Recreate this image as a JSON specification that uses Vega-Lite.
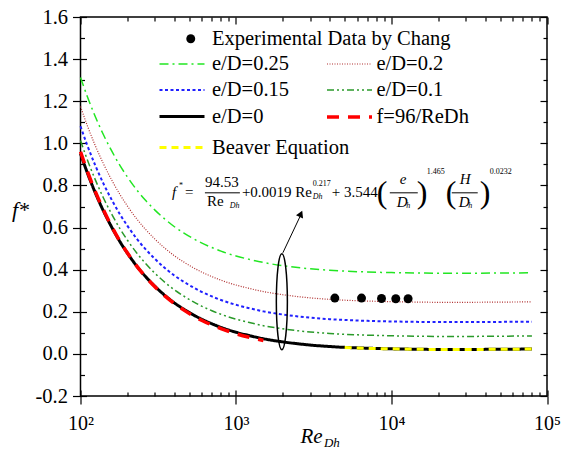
{
  "$schema": "https://vega.github.io/schema/vega-lite/v6.json",
  "width": 466.5,
  "height": 379,
  "autosize": {"type": "none"},
  "padding": {"left": 80.5, "top": 17, "right": 24, "bottom": 53},
  "background": "white",
  "datasets": {
    "curves": [
      {"Re": 100, "d0": 0.951, "d010": 1.013, "d015": 1.081, "d020": 1.175, "d025": 1.313, "f96": 0.960, "bv": null},
      {"Re": 110, "d0": 0.865, "d010": 0.927, "d015": 0.995, "d020": 1.089, "d025": 1.227, "f96": 0.873, "bv": null},
      {"Re": 125, "d0": 0.762, "d010": 0.824, "d015": 0.892, "d020": 0.986, "d025": 1.124, "f96": 0.768, "bv": null},
      {"Re": 140, "d0": 0.681, "d010": 0.743, "d015": 0.811, "d020": 0.905, "d025": 1.043, "f96": 0.686, "bv": null},
      {"Re": 160, "d0": 0.597, "d010": 0.659, "d015": 0.727, "d020": 0.821, "d025": 0.959, "f96": 0.600, "bv": null},
      {"Re": 180, "d0": 0.531, "d010": 0.593, "d015": 0.661, "d020": 0.755, "d025": 0.893, "f96": 0.533, "bv": null},
      {"Re": 200, "d0": 0.479, "d010": 0.541, "d015": 0.609, "d020": 0.703, "d025": 0.841, "f96": 0.480, "bv": null},
      {"Re": 230, "d0": 0.417, "d010": 0.479, "d015": 0.547, "d020": 0.641, "d025": 0.779, "f96": 0.417, "bv": null},
      {"Re": 260, "d0": 0.370, "d010": 0.432, "d015": 0.500, "d020": 0.594, "d025": 0.732, "f96": 0.369, "bv": null},
      {"Re": 300, "d0": 0.322, "d010": 0.384, "d015": 0.452, "d020": 0.546, "d025": 0.684, "f96": 0.320, "bv": null},
      {"Re": 350, "d0": 0.277, "d010": 0.339, "d015": 0.407, "d020": 0.501, "d025": 0.639, "f96": 0.274, "bv": null},
      {"Re": 400, "d0": 0.243, "d010": 0.305, "d015": 0.373, "d020": 0.467, "d025": 0.605, "f96": 0.240, "bv": null},
      {"Re": 460, "d0": 0.213, "d010": 0.275, "d015": 0.343, "d020": 0.437, "d025": 0.575, "f96": 0.209, "bv": null},
      {"Re": 530, "d0": 0.186, "d010": 0.248, "d015": 0.316, "d020": 0.410, "d025": 0.548, "f96": 0.181, "bv": null},
      {"Re": 600, "d0": 0.165, "d010": 0.227, "d015": 0.295, "d020": 0.389, "d025": 0.527, "f96": 0.160, "bv": null},
      {"Re": 700, "d0": 0.143, "d010": 0.205, "d015": 0.273, "d020": 0.367, "d025": 0.505, "f96": 0.137, "bv": null},
      {"Re": 800, "d0": 0.126, "d010": 0.188, "d015": 0.256, "d020": 0.350, "d025": 0.488, "f96": 0.120, "bv": null},
      {"Re": 1000, "d0": 0.103, "d010": 0.165, "d015": 0.233, "d020": 0.327, "d025": 0.465, "f96": 0.096, "bv": null},
      {"Re": 1200, "d0": 0.088, "d010": 0.150, "d015": 0.218, "d020": 0.312, "d025": 0.450, "f96": 0.080, "bv": null},
      {"Re": 1500, "d0": 0.072, "d010": 0.134, "d015": 0.202, "d020": 0.296, "d025": 0.434, "f96": 0.064, "bv": null},
      {"Re": 2000, "d0": 0.057, "d010": 0.119, "d015": 0.187, "d020": 0.281, "d025": 0.419, "f96": null, "bv": null},
      {"Re": 2500, "d0": 0.048, "d010": 0.110, "d015": 0.178, "d020": 0.272, "d025": 0.410, "f96": null, "bv": null},
      {"Re": 3000, "d0": 0.042, "d010": 0.104, "d015": 0.172, "d020": 0.266, "d025": 0.404, "f96": null, "bv": null},
      {"Re": 4000, "d0": 0.035, "d010": 0.097, "d015": 0.165, "d020": 0.259, "d025": 0.397, "f96": null, "bv": null},
      {"Re": 5000, "d0": 0.031, "d010": 0.093, "d015": 0.161, "d020": 0.255, "d025": 0.393, "f96": null, "bv": 0.030},
      {"Re": 7000, "d0": 0.027, "d010": 0.089, "d015": 0.157, "d020": 0.251, "d025": 0.389, "f96": null, "bv": 0.026},
      {"Re": 10000, "d0": 0.024, "d010": 0.086, "d015": 0.154, "d020": 0.248, "d025": 0.386, "f96": null, "bv": 0.024},
      {"Re": 15000, "d0": 0.022, "d010": 0.084, "d015": 0.152, "d020": 0.246, "d025": 0.384, "f96": null, "bv": 0.022},
      {"Re": 20000, "d0": 0.021, "d010": 0.083, "d015": 0.151, "d020": 0.245, "d025": 0.383, "f96": null, "bv": 0.021},
      {"Re": 30000, "d0": 0.021, "d010": 0.083, "d015": 0.151, "d020": 0.245, "d025": 0.383, "f96": null, "bv": 0.021},
      {"Re": 50000, "d0": 0.022, "d010": 0.084, "d015": 0.152, "d020": 0.246, "d025": 0.384, "f96": null, "bv": 0.022},
      {"Re": 80000, "d0": 0.023, "d010": 0.085, "d015": 0.153, "d020": 0.247, "d025": 0.385, "f96": null, "bv": 0.023}
    ],
    "exp": [
      {"Re": 4321, "f": 0.265},
      {"Re": 6416, "f": 0.265},
      {"Re": 8626, "f": 0.263},
      {"Re": 10656, "f": 0.262},
      {"Re": 12787, "f": 0.262}
    ],
    "fm_up": [
      {"t": "=", "Re": 470, "f": 0.770},
      {"t": "94.53", "Re": 631.1, "f": 0.815},
      {"t": "Re", "Re": 650.1, "f": 0.724},
      {"t": "+0.0019 Re", "Re": 1091, "f": 0.770},
      {"t": "+ 3.544", "Re": 4133, "f": 0.770}
    ],
    "fm_it": [
      {"t": "f", "Re": 387, "f": 0.770},
      {"t": "e", "Re": 11300, "f": 0.829},
      {"t": "D", "Re": 10817, "f": 0.719},
      {"t": "H", "Re": 27480, "f": 0.829},
      {"t": "D", "Re": 27070, "f": 0.719}
    ],
    "fm_sm_up": [
      {"t": "*", "Re": 430, "f": 0.797},
      {"t": "0.217", "Re": 3120, "f": 0.806},
      {"t": "1.465", "Re": 16864, "f": 0.865},
      {"t": "0.0232", "Re": 42820, "f": 0.865}
    ],
    "fm_sm_it": [
      {"t": "Dh", "Re": 910, "f": 0.703},
      {"t": "Dh", "Re": 3120, "f": 0.743},
      {"t": "h", "Re": 12450, "f": 0.703},
      {"t": "h", "Re": 31200, "f": 0.703}
    ],
    "fm_paren": [
      {"t": "(", "Re": 8046, "f": 0.765},
      {"t": ")", "Re": 14544, "f": 0.765},
      {"t": "(", "Re": 22336, "f": 0.765},
      {"t": ")", "Re": 36940, "f": 0.765}
    ],
    "bars": [
      {"Re": 631.1, "Re2": 1059.5, "f": 0.765},
      {"Re": 9752, "Re2": 14757, "f": 0.765},
      {"Re": 24410, "Re2": 35850, "f": 0.765}
    ],
    "arrow": [
      {"Re": 2001, "f": 0.480, "Re2": 2575, "f2": 0.651}
    ],
    "arrowhead": [
      {"Re": 2614, "f": 0.665}
    ],
    "ellipse": [
      {"Re": 1972, "f": 0.248}
    ],
    "xsub": [
      {"t": "Dh", "Re": 4133, "f": -0.425}
    ]
  },
  "layer": [
    {
      "data": {"name": "curves"},
      "transform": [
        {"fold": ["d025", "d020", "d015", "d010", "d0", "f96", "bv"], "as": ["series", "f"]},
        {"filter": {"field": "series", "oneOf": ["d025", "d015", "d0"]}}
      ],
      "mark": {"type": "line", "interpolate": "monotone"},
      "encoding": {
        "x": {"field": "Re", "type": "quantitative", "scale": {"type": "log", "domain": [100, 100000], "nice": false},
          "axis": {"orient": "bottom", "values": [100, 1000, 10000, 100000],
            "labelExpr": "datum.value == 100 ? '10²' : datum.value == 1000 ? '10³' : datum.value == 10000 ? '10⁴' : '10⁵'",
            "labelFontSize": 20, "labelPadding": 9, "tickSize": 8, "labelFlush": false, "labelOverlap": false,
            "title": "Re", "titleFontSize": 21, "titleFontStyle": "italic", "titleFontWeight": "normal",
            "titleX": 230.5, "titleY": 40, "titleAlign": "center", "titleBaseline": "middle"}},
        "y": {"field": "f", "type": "quantitative", "scale": {"domain": [-0.2, 1.6], "nice": false, "zero": false},
          "axis": {"orient": "left", "values": [-0.2, 0, 0.2, 0.4, 0.6, 0.8, 1, 1.2, 1.4, 1.6],
            "labelExpr": "replace(format(datum.value, '.1f'), '−', '-')",
            "labelFontSize": 20.5, "labelPadding": 5, "tickSize": 8, "labelFlush": false, "labelOverlap": false,
            "title": "f*", "titleAngle": 0, "titleX": -60.5, "titleY": 192, "titleFontSize": 22,
            "titleFontStyle": "italic", "titleFontWeight": "normal", "titleAlign": "center", "titleBaseline": "middle"}},
        "color": {"field": "series", "type": "nominal",
          "scale": {"domain": ["d025", "d015", "d0"], "range": ["#22e622", "#2020ff", "#000000"]},
          "legend": {"orient": "none", "legendX": 90, "legendY": 36, "title": null, "symbolType": "M-2.25,0H2.25",
            "symbolSize": 400, "labelOffset": 18.5, "rowPadding": 4,
            "labelExpr": "datum.label == 'd025' ? 'e/D=0.25' : datum.label == 'd015' ? 'e/D=0.15' : 'e/D=0'"}},
        "strokeDash": {"field": "series", "type": "nominal",
          "scale": {"domain": ["d025", "d015", "d0"], "range": [[9, 4, 2, 4], [3, 2.5], [1, 0]]}},
        "strokeWidth": {"field": "series", "type": "nominal",
          "scale": {"type": "ordinal", "domain": ["d025", "d015", "d0"], "range": [1.5, 2, 3]}}
      }
    },
    {
      "data": {"name": "curves"},
      "transform": [
        {"fold": ["d025", "d020", "d015", "d010", "d0", "f96", "bv"], "as": ["series", "f"]},
        {"filter": {"field": "series", "oneOf": ["d020", "d010", "f96"]}}
      ],
      "mark": {"type": "line", "interpolate": "monotone"},
      "encoding": {
        "x": {"field": "Re", "type": "quantitative", "scale": {"type": "log", "domain": [100, 100000], "nice": false},
          "axis": {"orient": "bottom", "values": [100, 200, 300, 400, 500, 600, 700, 800, 900, 1000, 2000, 3000, 4000, 5000, 6000, 7000, 8000, 9000, 10000, 20000, 30000, 40000, 50000, 60000, 70000, 80000, 90000, 100000],
            "labels": false, "title": null,
            "tickSize": {"condition": {"test": "abs(log(datum.value)/LN10 - round(log(datum.value)/LN10)) < 0.001", "value": -6}, "value": -4}}},
        "y": {"field": "f", "type": "quantitative", "scale": {"domain": [-0.2, 1.6], "nice": false, "zero": false},
          "axis": {"orient": "left", "values": [-0.2, -0.1, 0, 0.1, 0.2, 0.3, 0.4, 0.5, 0.6, 0.7, 0.8, 0.9, 1, 1.1, 1.2, 1.3, 1.4, 1.5, 1.6],
            "labels": false, "title": null,
            "tickSize": {"condition": {"test": "abs(datum.value*5 - round(datum.value*5)) < 0.001", "value": -6}, "value": -4}}},
        "color": {"field": "series", "type": "nominal",
          "scale": {"domain": ["d020", "d010", "f96"], "range": ["#b03030", "#2a9a2a", "#ff0000"]},
          "legend": {"orient": "none", "legendX": 257, "legendY": 36, "title": null, "symbolType": "M-2.25,0H2.25",
            "symbolSize": 400, "labelOffset": 15, "rowPadding": 4,
            "labelExpr": "datum.label == 'd020' ? 'e/D=0.2' : datum.label == 'd010' ? 'e/D=0.1' : 'f=96/ReDh'"}},
        "strokeDash": {"field": "series", "type": "nominal",
          "scale": {"domain": ["d020", "d010", "f96"], "range": [[1, 1.5], [7, 3, 2, 3, 2, 3], [12, 9]]}},
        "strokeWidth": {"field": "series", "type": "nominal",
          "scale": {"type": "ordinal", "domain": ["d020", "d010", "f96"], "range": [1.2, 1.5, 3.5]}}
      }
    },
    {
      "data": {"name": "curves"},
      "transform": [
        {"fold": ["d025", "d020", "d015", "d010", "d0", "f96", "bv"], "as": ["series", "f"]},
        {"filter": {"field": "series", "oneOf": ["bv"]}}
      ],
      "mark": {"type": "line", "interpolate": "monotone"},
      "encoding": {
        "x": {"field": "Re", "type": "quantitative", "scale": {"type": "log", "domain": [100, 100000], "nice": false},
          "axis": {"orient": "top", "values": [100, 200, 300, 400, 500, 600, 700, 800, 900, 1000, 2000, 3000, 4000, 5000, 6000, 7000, 8000, 9000, 10000, 20000, 30000, 40000, 50000, 60000, 70000, 80000, 90000, 100000],
            "labels": false, "title": null,
            "tickSize": {"condition": {"test": "abs(log(datum.value)/LN10 - round(log(datum.value)/LN10)) < 0.001", "value": -7}, "value": -4}}},
        "y": {"field": "f", "type": "quantitative", "scale": {"domain": [-0.2, 1.6], "nice": false, "zero": false},
          "axis": {"orient": "right", "values": [-0.2, -0.1, 0, 0.1, 0.2, 0.3, 0.4, 0.5, 0.6, 0.7, 0.8, 0.9, 1, 1.1, 1.2, 1.3, 1.4, 1.5, 1.6],
            "labels": false, "title": null,
            "tickSize": {"condition": {"test": "abs(datum.value*5 - round(datum.value*5)) < 0.001", "value": -7}, "value": -4}}},
        "color": {"field": "series", "type": "nominal",
          "scale": {"domain": ["bv"], "range": ["#ffff00"]},
          "legend": {"orient": "none", "legendX": 90, "legendY": 119, "title": null, "symbolType": "M-2.25,0H2.25",
            "symbolSize": 400, "labelOffset": 18.5, "labelExpr": "'Beaver Equation'"}},
        "strokeDash": {"field": "series", "type": "nominal",
          "scale": {"domain": ["bv"], "range": [[7, 5]]}},
        "strokeWidth": {"field": "series", "type": "nominal",
          "scale": {"type": "ordinal", "domain": ["bv"], "range": [3]}}
      }
    },
    {
      "data": {"name": "exp"},
      "mark": {"type": "point", "filled": true, "color": "black", "size": 80, "opacity": 1},
      "encoding": {
        "x": {"field": "Re", "type": "quantitative", "scale": {"type": "log", "domain": [100, 100000], "nice": false}, "axis": null},
        "y": {"field": "f", "type": "quantitative", "scale": {"domain": [-0.2, 1.6], "nice": false, "zero": false}, "axis": null},
        "shape": {"datum": "Experimental Data by Chang", "type": "nominal",
          "scale": {"range": ["circle"]},
          "legend": {"orient": "none", "legendX": 100, "legendY": 11.5, "title": null, "symbolSize": 80,
            "symbolFillColor": "black", "symbolStrokeColor": "black", "labelOffset": 11}}
      }
    },
    {
      "data": {"name": "ellipse"},
      "mark": {"type": "point", "filled": false, "stroke": "black", "strokeWidth": 1.5, "opacity": 1, "size": 9216,
        "shape": "M0,-1A0.115,1,0,1,1,0,1A0.115,1,0,1,1,0,-1Z"},
      "encoding": {
        "x": {"field": "Re", "type": "quantitative", "scale": {"type": "log", "domain": [100, 100000], "nice": false}, "axis": null},
        "y": {"field": "f", "type": "quantitative", "scale": {"domain": [-0.2, 1.6], "nice": false, "zero": false}, "axis": null}
      }
    },
    {
      "data": {"name": "arrow"},
      "mark": {"type": "rule", "color": "black", "strokeWidth": 1},
      "encoding": {
        "x": {"field": "Re", "type": "quantitative", "scale": {"type": "log", "domain": [100, 100000], "nice": false}, "axis": null},
        "y": {"field": "f", "type": "quantitative", "scale": {"domain": [-0.2, 1.6], "nice": false, "zero": false}, "axis": null},
        "x2": {"field": "Re2"},
        "y2": {"field": "f2"}
      }
    },
    {
      "data": {"name": "arrowhead"},
      "mark": {"type": "point", "shape": "triangle-up", "filled": true, "color": "black", "size": 60, "angle": 24, "opacity": 1},
      "encoding": {
        "x": {"field": "Re", "type": "quantitative", "scale": {"type": "log", "domain": [100, 100000], "nice": false}, "axis": null},
        "y": {"field": "f", "type": "quantitative", "scale": {"domain": [-0.2, 1.6], "nice": false, "zero": false}, "axis": null}
      }
    },
    {
      "data": {"name": "bars"},
      "mark": {"type": "rule", "color": "black", "strokeWidth": 1},
      "encoding": {
        "x": {"field": "Re", "type": "quantitative", "scale": {"type": "log", "domain": [100, 100000], "nice": false}, "axis": null},
        "x2": {"field": "Re2"},
        "y": {"field": "f", "type": "quantitative", "scale": {"domain": [-0.2, 1.6], "nice": false, "zero": false}, "axis": null}
      }
    },
    {
      "data": {"name": "fm_up"},
      "mark": {"type": "text", "font": "Liberation Serif", "fontSize": 15, "align": "left", "baseline": "middle", "color": "black"},
      "encoding": {
        "x": {"field": "Re", "type": "quantitative", "scale": {"type": "log", "domain": [100, 100000], "nice": false}, "axis": null},
        "y": {"field": "f", "type": "quantitative", "scale": {"domain": [-0.2, 1.6], "nice": false, "zero": false}, "axis": null},
        "text": {"field": "t"}
      }
    },
    {
      "data": {"name": "fm_it"},
      "mark": {"type": "text", "font": "Liberation Serif", "fontSize": 15, "fontStyle": "italic", "align": "left", "baseline": "middle", "color": "black"},
      "encoding": {
        "x": {"field": "Re", "type": "quantitative", "scale": {"type": "log", "domain": [100, 100000], "nice": false}, "axis": null},
        "y": {"field": "f", "type": "quantitative", "scale": {"domain": [-0.2, 1.6], "nice": false, "zero": false}, "axis": null},
        "text": {"field": "t"}
      }
    },
    {
      "data": {"name": "fm_sm_up"},
      "mark": {"type": "text", "font": "Liberation Serif", "fontSize": 8, "align": "left", "baseline": "middle", "color": "black"},
      "encoding": {
        "x": {"field": "Re", "type": "quantitative", "scale": {"type": "log", "domain": [100, 100000], "nice": false}, "axis": null},
        "y": {"field": "f", "type": "quantitative", "scale": {"domain": [-0.2, 1.6], "nice": false, "zero": false}, "axis": null},
        "text": {"field": "t"}
      }
    },
    {
      "data": {"name": "fm_sm_it"},
      "mark": {"type": "text", "font": "Liberation Serif", "fontSize": 8, "fontStyle": "italic", "align": "left", "baseline": "middle", "color": "black"},
      "encoding": {
        "x": {"field": "Re", "type": "quantitative", "scale": {"type": "log", "domain": [100, 100000], "nice": false}, "axis": null},
        "y": {"field": "f", "type": "quantitative", "scale": {"domain": [-0.2, 1.6], "nice": false, "zero": false}, "axis": null},
        "text": {"field": "t"}
      }
    },
    {
      "data": {"name": "fm_paren"},
      "mark": {"type": "text", "font": "Liberation Serif", "fontSize": 32, "align": "left", "baseline": "middle", "color": "black"},
      "encoding": {
        "x": {"field": "Re", "type": "quantitative", "scale": {"type": "log", "domain": [100, 100000], "nice": false}, "axis": null},
        "y": {"field": "f", "type": "quantitative", "scale": {"domain": [-0.2, 1.6], "nice": false, "zero": false}, "axis": null},
        "text": {"field": "t"}
      }
    },
    {
      "data": {"name": "xsub"},
      "mark": {"type": "text", "font": "Liberation Serif", "fontSize": 13, "fontStyle": "italic", "align": "center", "baseline": "middle", "color": "black"},
      "encoding": {
        "x": {"field": "Re", "type": "quantitative", "scale": {"type": "log", "domain": [100, 100000], "nice": false}, "axis": null},
        "y": {"field": "f", "type": "quantitative", "scale": {"domain": [-0.2, 1.6], "nice": false, "zero": false}, "axis": null},
        "text": {"field": "t"}
      }
    }
  ],
  "resolve": {
    "scale": {"color": "independent", "strokeDash": "independent", "strokeWidth": "independent", "shape": "independent"},
    "axis": {"x": "independent", "y": "independent"}
  },
  "config": {
    "font": "Liberation Serif",
    "view": {"stroke": "black", "strokeWidth": 1.5},
    "axis": {"grid": false, "domain": false, "tickColor": "black", "tickWidth": 1.2, "labelColor": "black", "titleColor": "black",
      "labelFont": "Liberation Serif", "titleFont": "Liberation Serif"},
    "legend": {"labelFont": "Liberation Serif", "labelFontSize": 20.5, "labelColor": "black", "padding": 0, "labelLimit": 400}
  }
}
